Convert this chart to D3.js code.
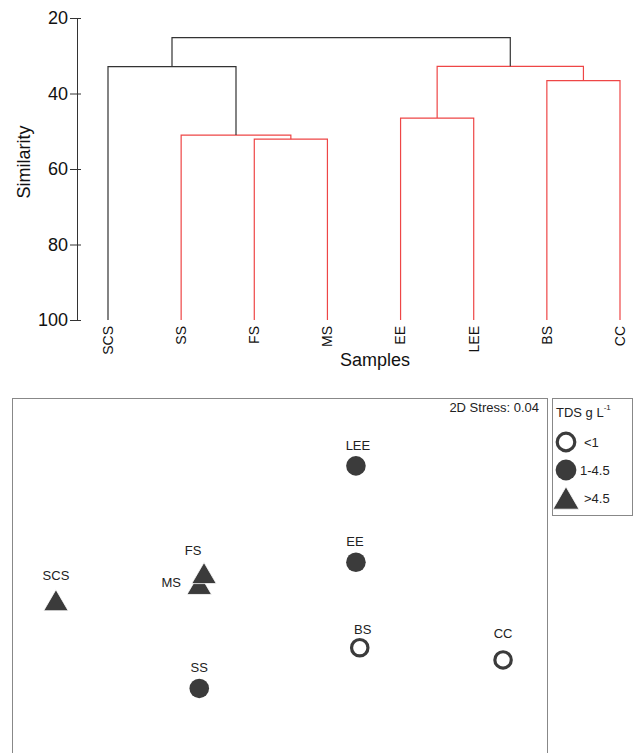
<!DOCTYPE html>
<html>
<head>
<meta charset="utf-8">
<script src="https://cdn.jsdelivr.net/npm/d3@7"></script>
<style>
  body { margin: 0; background: #fff; }
  svg { font-family: "Liberation Sans", Arial, sans-serif; display: block; }
</style>
</head>
<body>
<svg id="chart" width="635" height="753"></svg>
<script>
// dendrogram data (group average, SIMPROF red = not significant)
const leaves = ["SCS", "SS", "FS", "MS", "EE", "LEE", "BS", "CC"]
const mergeA = ["FS", "SS", "EE", "BS", "SCS", "EE+LEE", "SCS+SS+FS+MS"]
const mergeB = ["MS", "FS+MS", "LEE", "CC", "SS+FS+MS", "BS+CC", "EE+LEE+BS+CC"]
const mergeSim = [52.1, 51.0, 46.5, 36.6, 32.9, 32.8, 25.2]
const mergeRed = [true, true, true, true, false, true, false]
const simTicks = [20, 40, 60, 80, 100]

// nMDS data
const samples = ["SCS", "MS", "FS", "SS", "LEE", "EE", "BS", "CC"]
const mds1 = [-1.17, -0.42, -0.395, -0.42, 0.40, 0.40, 0.42, 1.17]
const mds2 = [-0.09, 0.03, 0.11, -0.74, 0.90, 0.19, -0.44, -0.53]
const tds = [">4.5", ">4.5", ">4.5", "1-4.5", "1-4.5", "1-4.5", "<1", "<1"]
const tdsClasses = ["<1", "1-4.5", ">4.5"]
const stress = 0.04

const svg = d3.select("#chart")
const dark = "#333"
const red = "#ee4646"
const fillCol = "#3b3b3b"

// ---------- dendrogram ----------
const x = d3.scalePoint().domain(leaves).range([108, 620])
const y = d3.scaleLinear().domain([20, 100]).range([18, 320])

const yAxis = svg.append("g")
    .attr("transform", "translate(77,0)")
    .call(d3.axisLeft(y).tickValues(simTicks).tickSize(7).tickSizeOuter(0).tickPadding(2))
yAxis.select(".domain").attr("stroke", dark)
yAxis.selectAll(".tick line").attr("x2", -7).attr("x1", 4).attr("stroke", dark)
yAxis.selectAll(".tick text").attr("font-size", 18).attr("fill", "#111")
    .attr("font-family", "Liberation Sans, Arial, sans-serif")

svg.append("text")
    .attr("transform", "translate(30,162) rotate(-90)")
    .attr("text-anchor", "middle")
    .attr("font-size", 18).attr("fill", "#111")
    .text("Similarity")

// node positions: leaves at 100 similarity
const nodeX = {}, nodeY = {}
leaves.forEach(l => { nodeX[l] = x(l); nodeY[l] = y(100) })

mergeA.forEach((a, i) => {
    const b = mergeB[i]
    const id = a + "+" + b
    const hy = y(mergeSim[i])
    nodeX[id] = (nodeX[a] + nodeX[b]) / 2
    nodeY[id] = hy
    const col = mergeRed[i] ? red : dark
    svg.append("path")
        .attr("d", `M${nodeX[a]},${nodeY[a]}V${hy}H${nodeX[b]}V${nodeY[b]}`)
        .attr("fill", "none")
        .attr("stroke", col)
        .attr("stroke-width", 1.2)
})

svg.selectAll(".leaf")
    .data(leaves)
    .join("text")
    .attr("class", "leaf")
    .attr("transform", d => `translate(${x(d)},326) rotate(-90)`)
    .attr("text-anchor", "end")
    .attr("dy", "0.35em")
    .attr("font-size", 14).attr("fill", "#111")
    .text(d => d)

svg.append("text")
    .attr("x", 375).attr("y", 366)
    .attr("text-anchor", "middle")
    .attr("font-size", 18).attr("fill", "#111")
    .text("Samples")

// ---------- nMDS ----------
const mx = d3.scaleLinear().domain([-1.4, 1.4]).range([12, 547])
const my = d3.scaleLinear().domain([-1.4, 1.4]).range([778, 398])

svg.append("rect")
    .attr("x", 12.5).attr("y", 398.5).attr("width", 535).attr("height", 400)
    .attr("fill", "none").attr("stroke", "#888")

svg.append("text")
    .attr("x", 539).attr("y", 412)
    .attr("text-anchor", "end")
    .attr("font-size", 13).attr("fill", "#222")
    .text("2D Stress: " + stress.toFixed(2))

function marker(sel, cls, r) {
    if (cls === ">4.5") {
        const h = r * 2.15, w = r * 2.5
        sel.append("path")
            .attr("d", `M0,${-h * 0.5}L${w / 2},${h * 0.5}L${-w / 2},${h * 0.5}Z`)
            .attr("fill", fillCol).attr("stroke", "#fff").attr("stroke-width", 0.8)
    } else if (cls === "1-4.5") {
        sel.append("circle").attr("r", r).attr("fill", fillCol)
    } else {
        sel.append("circle").attr("r", r - 1.6)
            .attr("fill", "#fff").attr("stroke", fillCol).attr("stroke-width", 3.2)
    }
}

// label offsets (dx, dy, anchor) per sample
const labelPos = {
    SCS: [0, -20, "middle"], MS: [-28, 3, "middle"], FS: [-11, -18, "middle"],
    SS: [0, -16, "middle"], LEE: [2, -16, "middle"], EE: [-1, -16, "middle"],
    BS: [3, -14, "middle"], CC: [0, -22, "middle"]
}

samples.forEach((s, i) => {
    const g = svg.append("g").attr("transform", `translate(${mx(mds1[i])},${my(mds2[i])})`)
    marker(g, tds[i], 9.8)
})
samples.forEach((s, i) => {
    const p = labelPos[s]
    svg.append("text")
        .attr("x", mx(mds1[i]) + p[0]).attr("y", my(mds2[i]) + p[1])
        .attr("text-anchor", p[2])
        .attr("font-size", 13).attr("fill", "#222")
        .text(s)
})

// legend
svg.append("rect")
    .attr("x", 552.5).attr("y", 398.5).attr("width", 80).attr("height", 117)
    .attr("fill", "none").attr("stroke", "#888")
const lt = svg.append("text").attr("x", 556).attr("y", 417)
    .attr("font-size", 13).attr("fill", "#222")
lt.append("tspan").text("TDS g L")
lt.append("tspan").attr("font-size", 8).attr("dy", -7).text("-1")

tdsClasses.forEach((c, i) => {
    const cy = 442 + i * 28
    const g = svg.append("g").attr("transform", `translate(566,${cy})`)
    marker(g, c, 10.4)
    svg.append("text")
        .attr("x", i === 1 ? 580 : 584).attr("y", cy + 5)
        .attr("font-size", 13).attr("fill", "#222")
        .text(c)
})
</script>
</body>
</html>
